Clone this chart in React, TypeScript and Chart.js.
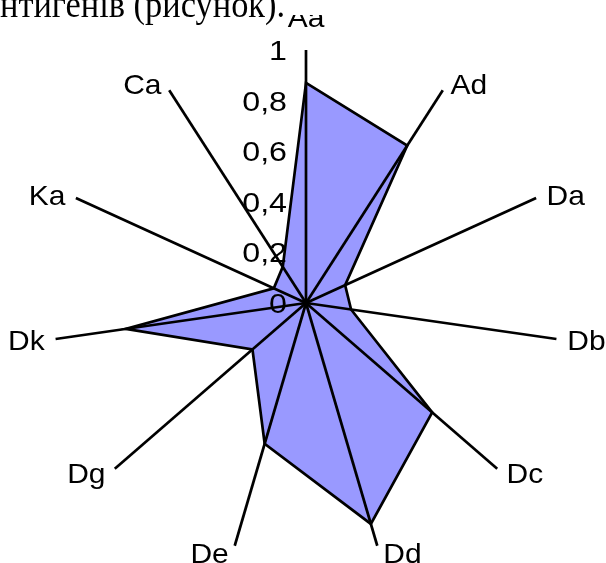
import React, { useEffect, useRef } from "react";
import { Chart, registerables } from "chart.js";

Chart.register(...registerables);

const categories = ["Aa", "Ad", "Da", "Db", "Dc", "Dd", "De", "Dg", "Dk", "Ka", "Ca"];
const values = [0.87, 0.74, 0.17, 0.18, 0.66, 0.91, 0.58, 0.28, 0.72, 0.14, 0.17];
const tickValues = [0, 0.2, 0.4, 0.6, 0.8, 1];
const tickLabels = ["0", "0,2", "0,4", "0,6", "0,8", "1"];
const headerText = "нтигенів (рисунок).";

const FONT = '28px "Liberation Sans", Arial, sans-serif';

const overlayPlugin = {
  id: "overlay",
  afterDatasetsDraw(chart: any) {
    const scale = chart.scales.r;
    const ctx = chart.ctx as CanvasRenderingContext2D;
    const n = chart.data.labels.length;
    const R = scale.drawingArea;
    ctx.save();
    // spokes over the fill
    ctx.strokeStyle = "#000";
    ctx.lineWidth = 2.7;
    for (let i = 0; i < n; i++) {
      const p = scale.getPointPosition(i, R);
      ctx.beginPath();
      ctx.moveTo(scale.xCenter, scale.yCenter);
      ctx.lineTo(p.x, p.y);
      ctx.stroke();
    }
    ctx.fillStyle = "#000";
    ctx.font = FONT;
    ctx.textBaseline = "alphabetic";
    // tick labels
    ctx.textAlign = "right";
    tickValues.forEach((v, k) => {
      const y = scale.yCenter - scale.getDistanceFromCenterForValue(v);
      const x = scale.xCenter - 19;
      ctx.save();
      ctx.translate(x, y + 10);
      ctx.scale(1.15, 1);
      ctx.fillText(tickLabels[k], 0, 0);
      ctx.restore();
    });
    // point labels
    for (let i = 0; i < n; i++) {
      const a = scale.getIndexAngle(i);
      const s = Math.sin(a);
      const c = Math.cos(a);
      const end = scale.getPointPosition(i, R);
      let x: number, y: number;
      if (Math.abs(s) < 0.05) {
        ctx.textAlign = "center";
        x = end.x;
        y = c > 0 ? end.y - 23 : end.y + 30;
      } else {
        ctx.textAlign = s > 0 ? "left" : "right";
        x = end.x + Math.sign(s) * (4 + 7 * Math.abs(s));
        y = end.y - 7 * c + 10.2;
      }
      ctx.save();
      ctx.translate(x, y);
      ctx.scale(1.07, 1);
      ctx.fillText(chart.data.labels[i], 0, 0);
      ctx.restore();
    }
    ctx.restore();
  },
};

export default function App() {
  const ref = useRef<HTMLCanvasElement>(null);
  useEffect(() => {
    if (!ref.current) return;
    const chart = new Chart(ref.current, {
      type: "radar",
      data: {
        labels: categories,
        datasets: [
          {
            data: values,
            backgroundColor: "#9999FF",
            borderColor: "#000000",
            borderWidth: 2.7,
            pointRadius: 0,
            pointHoverRadius: 0,
            fill: true,
            tension: 0,
          },
        ],
      },
      options: {
        responsive: false,
        animation: false,
        events: [],
        layout: { padding: { left: 53, right: 47, top: 50, bottom: 7 } },
        plugins: {
          legend: { display: false },
          tooltip: { enabled: false },
        },
        scales: {
          r: {
            min: 0,
            max: 1,
            ticks: { display: false, stepSize: 0.2 },
            grid: { display: false },
            angleLines: { display: false },
            pointLabels: { display: false },
          },
        },
      },
      plugins: [overlayPlugin],
    } as any);
    return () => chart.destroy();
  }, []);

  return (
    <div style={{ position: "absolute", left: 0, top: 0, width: 606, height: 563, background: "#fff", overflow: "hidden" }}>
      <canvas ref={ref} width={606} height={563} style={{ position: "absolute", left: 0, top: 0 }} />
      <div style={{ position: "absolute", left: 0, top: 0, width: 335, height: 15, background: "#fff" }} />
      <div
        style={{
          position: "absolute",
          left: 0,
          top: -14,
          font: '37px "Liberation Serif", "Times New Roman", serif',
          lineHeight: "37px",
          whiteSpace: "nowrap",
          color: "#000",
          transform: "scaleX(0.93)",
          transformOrigin: "0 0",
        }}
      >
        {headerText}
      </div>
    </div>
  );
}
